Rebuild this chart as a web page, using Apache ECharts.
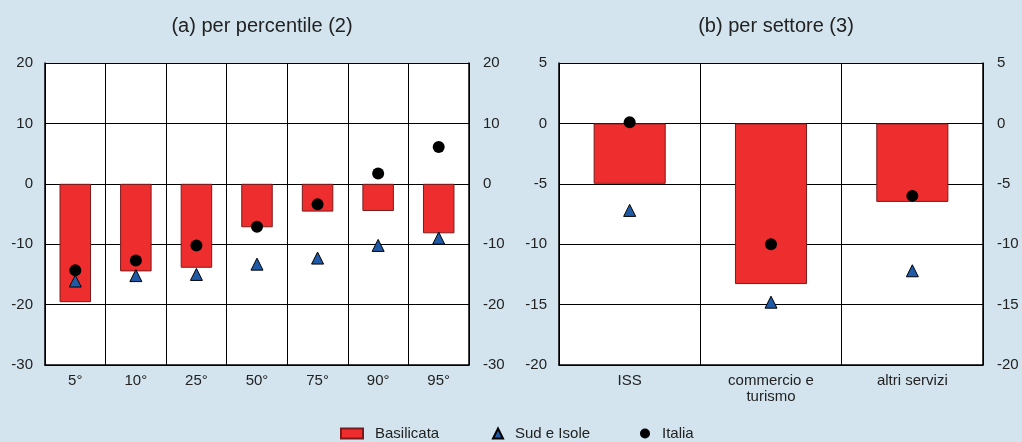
<!DOCTYPE html>
<html><head><meta charset="utf-8">
<script src="https://cdn.jsdelivr.net/npm/echarts@6/dist/echarts.min.js"></script>
<style>html,body{margin:0;padding:0;background:#d3e4ee;}#c{width:1022px;height:442px;}</style>
</head><body><div id="c"></div>
<script>
const catsA = ['5°','10°','25°','50°','75°','90°','95°'];
const basilicataA = [-19.6,-14.5,-13.9,-7.2,-4.6,-4.5,-8.2];
const sudA = [-16.1,-15.2,-15.0,-13.3,-12.3,-10.2,-9.0];
const italiaA = [-14.3,-12.7,-10.2,-7.1,-3.4,1.7,6.1];
const catsB = ['ISS','commercio e\nturismo','altri servizi'];
const basilicataB = [-5.0,-13.3,-6.5];
const sudB = [-7.2,-14.8,-12.2];
const italiaB = [0.1,-10.0,-6.0];

const font = 'Liberation Sans, Arial, sans-serif';
const chart = echarts.init(document.getElementById('c'));
function yAx(grid, min, max, interval, pos){
  return {type:'value', gridIndex:grid, min:min, max:max, interval:interval, position:pos,
    axisLine:{show:true, lineStyle:{color:'#000', width:1.5}},
    axisTick:{show:false},
    axisLabel:{color:'#222', fontSize:15, fontFamily:font, margin: pos==='left'?12:14},
    splitLine:{show: pos==='left', lineStyle:{color:'#000', width:1}}};
}
function xAx(grid, cats){
  return {type:'category', gridIndex:grid, data:cats,
    axisLine:{show:true, onZero:false, lineStyle:{color:'#000', width:1.5}},
    axisTick:{show:false},
    axisLabel:{color:'#222', fontSize:15, fontFamily:font, margin:8, lineHeight:16, interval:0},
    splitLine:{show:true, lineStyle:{color:'#000', width:1}}};
}
const barStyle = {color:'#ee2e2e', borderColor:'#7a1a1a', borderWidth:1};
const triStyle = {color:'#1f5aa6', borderColor:'#000', borderWidth:1, opacity:1};
const dotStyle = {color:'#000', opacity:1};
const legText = {fontSize:15, color:'#222', fontFamily:font, padding:[0,0,0,7]};
chart.setOption({
  backgroundColor:'#d3e4ee',
  animation:false,
  title:[
    {text:'(a) per percentile (2)', left:257, top:11, textAlign:'center', textStyle:{fontSize:20, fontWeight:'normal', color:'#222', fontFamily:font}},
    {text:'(b) per settore (3)', left:771, top:11, textAlign:'center', textStyle:{fontSize:20, fontWeight:'normal', color:'#222', fontFamily:font}}
  ],
  legend:[
    {top:426, left:340, padding:0, itemWidth:22, itemHeight:10, textStyle:legText, data:[{name:'Basilicata', icon:'rect'}]},
    {top:426, left:492, padding:0, itemWidth:10, itemHeight:10, textStyle:legText, data:[{name:'Sud e Isole', icon:'triangle'}]},
    {top:426, left:640, padding:0, itemWidth:10, itemHeight:10, textStyle:legText, data:[{name:'Italia', icon:'circle'}]}
  ],
  grid:[
    {left:45, right:553, top:63, height:302, show:true, backgroundColor:'#fff', borderWidth:0},
    {left:559, right:39, top:63, height:302, show:true, backgroundColor:'#fff', borderWidth:0}
  ],
  xAxis:[xAx(0,catsA), xAx(1,catsB)],
  yAxis:[yAx(0,-30,20,10,'left'), yAx(0,-30,20,10,'right'), yAx(1,-20,5,5,'left'), yAx(1,-20,5,5,'right')],
  series:[
    {name:'Basilicata', type:'bar', xAxisIndex:0, yAxisIndex:0, data:basilicataA, barWidth:'52%', itemStyle:barStyle},
    {name:'Sud e Isole', type:'scatter', xAxisIndex:0, yAxisIndex:0, data:sudA, symbol:'triangle', symbolSize:12, itemStyle:triStyle, z:5},
    {name:'Italia', type:'scatter', xAxisIndex:0, yAxisIndex:0, data:italiaA, symbol:'circle', symbolSize:12, itemStyle:dotStyle, z:6},
    {name:'Basilicata', type:'bar', xAxisIndex:1, yAxisIndex:2, data:basilicataB, barWidth:'51%', itemStyle:barStyle},
    {name:'Sud e Isole', type:'scatter', xAxisIndex:1, yAxisIndex:2, data:sudB, symbol:'triangle', symbolSize:12, itemStyle:triStyle, z:5},
    {name:'Italia', type:'scatter', xAxisIndex:1, yAxisIndex:2, data:italiaB, symbol:'circle', symbolSize:12, itemStyle:dotStyle, z:6}
  ]
});
</script></body></html>
